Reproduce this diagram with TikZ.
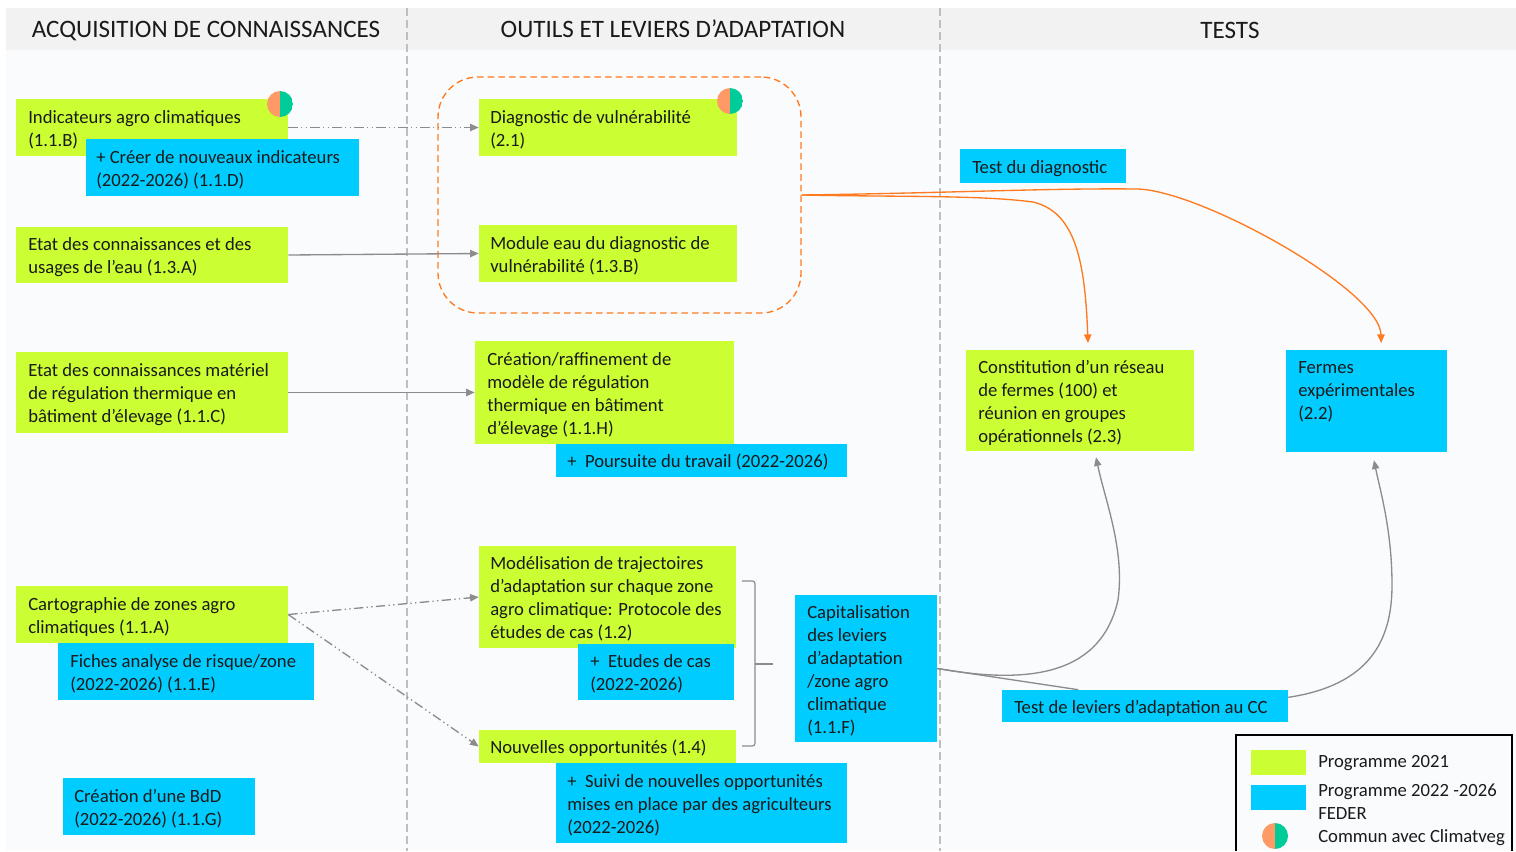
\documentclass[tikz,border=0pt]{standalone}
\usepackage{fontspec}
\setmainfont{Carlito}
\usetikzlibrary{fit,arrows.meta}
\definecolor{pgreen}{HTML}{CCFF33}
\definecolor{pblue}{HTML}{00CCFF}
\definecolor{hdr}{HTML}{F2F2F2}
\definecolor{bodybg}{HTML}{FAFBFD}
\definecolor{sepc}{HTML}{BFBFBF}
\definecolor{connc}{HTML}{8C8C8C}
\definecolor{orng}{HTML}{FF7A1F}
\definecolor{icoo}{HTML}{FF9966}
\definecolor{icot}{HTML}{00CC99}
\definecolor{txtc}{HTML}{1A1A1A}
\tikzset{
 gbox/.style={fill=pgreen, inner sep=0pt, draw=none},
 bbox/.style={fill=pblue, inner sep=0pt, draw=none},
 txt/.style={inner sep=0pt, align=left, anchor=west, text=txtc, font=\fontsize{14}{17.25}\selectfont},
 hdrtxt/.style={inner sep=0pt, text=txtc, font=\fontsize{18.8}{22}\selectfont},
 conn/.style={draw=connc, line width=1pt, -{Triangle[length=6.5pt,width=5.5pt]}},
 dd/.style={dash pattern=on 7pt off 2.5pt on 1pt off 2.5pt on 1pt off 2.5pt},
 oconn/.style={draw=orng, line width=1pt, -{Triangle[length=6.5pt,width=5.5pt]}},
 grp/.style={draw=orng, dash pattern=on 5pt off 3pt, line width=1pt, rounded corners=30pt, inner sep=0pt},
 sepline/.style={draw=sepc, line width=0.8pt, dash pattern=on 6pt off 3pt},
 icon/.style={circle, inner sep=0pt, minimum size=19.5pt,
   path picture={\fill[icoo] (path picture bounding box.south west) rectangle (path picture bounding box.north);
                 \fill[icot] (path picture bounding box.north) rectangle (path picture bounding box.south east);}},
}
\newcommand\pbox[8]{%
 \node[#2, fit={(#3,#4) (#5,#6)}] (#1) {};
 \node[txt] (#1-t) at (#7,{(#4+#6)/2+2.5}) {\strut #8\strut};}
\begin{document}
\begin{tikzpicture}[x=0.75pt,y=-0.75pt]
\useasboundingbox (0,0) rectangle (1516,851);
% background
\fill[bodybg] (6,50) rectangle (1516,851);
\fill[hdr] (6,8) rectangle (1516,50);
\draw[sepline] (407,8) -- (407,851);
\draw[sepline] (940,8) -- (940,851);
\node[hdrtxt] (h1) at (206,31) {ACQUISITION DE CONNAISSANCES};
\node[hdrtxt] (h2) at (673,29) {OUTILS ET LEVIERS D\char39ADAPTATION};
\node[hdrtxt] (h3) at (1230,30) {TESTS};

% group
\node[grp, fit={(438,77) (801,313)}] (grp) {};

% left column
\pbox{ind}{gbox}{16}{99}{288}{156}{28}{Indicateurs agro climatiques\\(1.1.B)}
\pbox{cre}{bbox}{86}{139}{359}{196}{96}{+ Créer de nouveaux indicateurs\\(2022-2026) (1.1.D)}
\pbox{eau}{gbox}{16}{227}{288}{283}{28}{Etat des connaissances et des\\usages de l’eau (1.3.A)}
\pbox{mat}{gbox}{16}{352}{288}{433}{28}{Etat des connaissances matériel\\de régulation thermique en\\bâtiment d’élevage (1.1.C)}
\pbox{carto}{gbox}{16}{586}{288}{643}{28}{Cartographie de zones agro\\climatiques (1.1.A)}
\pbox{fich}{bbox}{58}{643}{314}{700}{70}{Fiches analyse de risque/zone\\(2022-2026) (1.1.E)}
\pbox{bdd}{bbox}{63}{778}{255}{835}{74}{Création d’une BdD\\(2022-2026) (1.1.G)}

% middle column
\pbox{diag}{gbox}{479}{99}{737}{156}{490}{Diagnostic de vulnérabilité\\(2.1)}
\pbox{mod}{gbox}{479}{225}{737}{282}{490}{Module eau du diagnostic de\\vulnérabilité (1.3.B)}
\pbox{crea}{gbox}{475}{341}{734}{444}{487}{Création/raffinement de\\modèle de régulation\\thermique en bâtiment\\d’élevage (1.1.H)}
\pbox{pours}{bbox}{556}{444}{847}{477}{567}{+\ \ Poursuite du travail (2022-2026)}
\pbox{modl}{gbox}{479}{546}{736}{648}{490}{Modélisation de trajectoires\\d’adaptation sur chaque zone\\agro climatique: Protocole des\\études de cas (1.2)}
\pbox{etud}{bbox}{578}{644}{734}{700}{590}{+\ \ Etudes de cas\\(2022-2026)}
\pbox{nouv}{gbox}{479}{730}{736}{763}{490}{Nouvelles opportunités (1.4)}
\pbox{suivi}{bbox}{556}{763}{847}{843}{567}{+\ \ Suivi de nouvelles opportunités\\mises en place par des agriculteurs\\(2022-2026)}
\pbox{cap}{bbox}{795}{595}{937}{742}{807}{Capitalisation\\des leviers\\d’adaptation\\/zone agro\\climatique\\(1.1.F)}

% right column
\pbox{tdiag}{bbox}{960}{149}{1126}{183}{972}{Test du diagnostic}
\pbox{con}{gbox}{966}{350}{1194}{451}{978}{Constitution d’un réseau\\de fermes (100) et\\réunion en groupes\\opérationnels (2.3)}
\pbox{ferm}{bbox}{1286}{350}{1447}{452}{1298}{Fermes\\expérimentales\\(2.2)\\\mbox{}}
\pbox{tlev}{bbox}{1002}{690}{1288}{722}{1014}{Test de leviers d’adaptation au CC}

% icons
\node[icon] (ic1) at (280,104) {};
\node[icon] (ic2) at (730,101) {};

% bracket
\draw[connc, line width=0.9pt, rounded corners=2pt] (742,581) -- (755,581) -- (755,746) -- (742,746);
\draw[connc, line width=0.9pt] (755,664) -- (773,664);

% connectors
\draw[conn, dd] (ind.east) -- (diag.west);
\draw[conn] (eau.east) -- (mod.west);
\draw[conn] (mat.east) -- (crea.west);
\draw[conn, dd] (carto.east) -- (modl.west);
\draw[conn, dd] (carto.east) -- (nouv.west);

\draw[oconn] (grp.east) .. controls (900,197) and (980,195) .. (1033,202)
   .. controls (1075,212) and (1085,260) .. ([xshift=6pt,yshift=5pt]con.north);
\draw[oconn] (grp.east) .. controls (950,193) and (1050,188) .. (1137,189)
   .. controls (1200,190) and (1380,290) .. ([xshift=11pt,yshift=5pt]ferm.north);

\draw[connc, line width=1pt] (cap.east) -- ([xshift=-50pt]tlev.north);
\draw[conn] (cap.east) .. controls (1020,683) and (1100,680) .. (1118,600)
   .. controls (1125,550) and (1105,500) .. ([xshift=12pt,yshift=-4.5pt]con.south);
\draw[conn] ([yshift=6.5pt]tlev.east) .. controls (1370,685) and (1392,640) .. (1392,585)
   .. controls (1392,530) and (1380,490) .. ([xshift=5.6pt,yshift=-6pt]ferm.south);

% legend
\draw[black, line width=0.8pt] (1236,851) -- (1236,735) -- (1512,735) -- (1512,851);
\node[gbox, fit={(1251,750) (1306,775)}] (lg1) {};
\node[bbox, fit={(1251,785) (1306,810)}] (lg2) {};
\node[icon] (lg3) at (1275,836) {};
\node[txt] (lg1-t) at (1318,763) {\strut Programme 2021\strut};
\node[txt] (lg2-t) at (1318,803) {\strut Programme 2022 -2026\\FEDER\strut};
\node[txt] (lg3-t) at (1318,838) {\strut Commun avec Climatveg\strut};
\end{tikzpicture}
\end{document}
